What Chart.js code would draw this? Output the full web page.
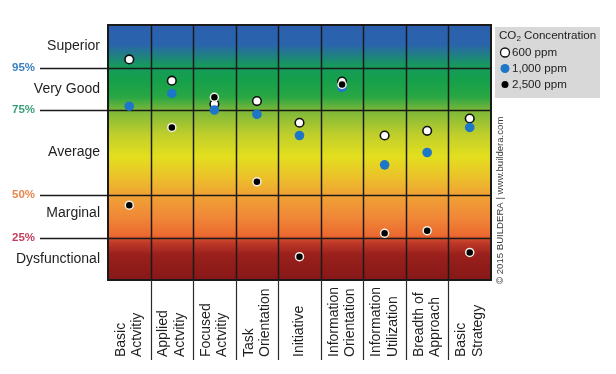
<!DOCTYPE html>
<html>
<head>
<meta charset="utf-8">
<script src="https://cdn.jsdelivr.net/npm/chart.js@4.4.1/dist/chart.umd.min.js"></script>
<style>
  html, body { margin: 0; padding: 0; background: #fff; }
  canvas { display: block; }
</style>
</head>
<body>
<canvas id="chart" width="616" height="374"></canvas>
<script>
// categories (multi-line labels, typo kept as in the original)
const categories = [
  ['Basic', 'Actvitiy'],
  ['Applied', 'Actvitiy'],
  ['Focused', 'Actvitiy'],
  ['Task', 'Orientation'],
  ['Initiative'],
  ['Information', 'Orientation'],
  ['Information', 'Utilization'],
  ['Breadth of', 'Approach'],
  ['Basic', 'Strategy']
];

// scores on a band scale: 0-1 Dysfunctional, 1-2 Marginal, 2-4 Average, 4-5 Very Good, 5-6 Superior
const ppm600  = [5.19, 4.69, 4.14, 4.21, 3.70, 4.67, 3.40, 3.51, 3.80];
const ppm1000 = [4.09, 4.39, 4.00, 3.90, 3.40, 4.53, 2.71, 3.00, 3.59];
const ppm2500 = [1.76, 3.59, 4.30, 2.31, 0.55, 4.60, 1.10, 1.16, 0.65];

const bandNames = ['Dysfunctional', 'Marginal', 'Average', 'Very Good', 'Superior'];
const bandEdges = [0, 1, 2, 4, 5, 6];
const thresholdValues = [1, 2, 4, 5];
const thresholdLabels = ['25%', '50%', '75%', '95%'];
const thresholdColors = ['#c43e5c', '#e8874c', '#3a9f78', '#3b80c2'];

const seriesNames = ['600 ppm', '1,000 ppm', '2,500 ppm'];

const FONT = '"Liberation Sans", Arial, Helvetica, sans-serif';

// gradient stops keyed on scale values
const gradStops = [
  [6.0, '#2b5fae'],
  [5.55, '#2a63ac'],
  [5.05, '#17995e'],
  [4.7, '#14a04a'],
  [4.3, '#2aa744'],
  [4.0, '#7ab73a'],
  [3.4, '#c2cf2a'],
  [2.9, '#e3df1e'],
  [2.4, '#ecc02b'],
  [2.0, '#f0a234'],
  [1.5, '#f08938'],
  [1.05, '#ec6a30'],
  [0.9, '#c23c29'],
  [0.6, '#9a201c'],
  [0.0, '#861818']
];

const backdrop = {
  id: 'backdrop',
  beforeDatasetsDraw(chart) {
    const { ctx, chartArea: a, scales: { x, y } } = chart;
    ctx.save();
    // gradient background
    const g = ctx.createLinearGradient(0, a.top, 0, a.bottom);
    gradStops.forEach(([v, c]) => {
      const f = (y.getPixelForValue(v) - a.top) / (a.bottom - a.top);
      g.addColorStop(Math.min(1, Math.max(0, f)), c);
    });
    ctx.fillStyle = g;
    ctx.fillRect(a.left, a.top, a.right - a.left, a.bottom - a.top);

    ctx.strokeStyle = '#1a1a1a';
    ctx.lineWidth = 1.5;
    // horizontal threshold lines, extending left to the % labels
    thresholdValues.forEach(v => {
      const py = Math.round(y.getPixelForValue(v)) + 0.5;
      ctx.beginPath();
      ctx.moveTo(40, py);
      ctx.lineTo(a.right, py);
      ctx.stroke();
    });
    // vertical column lines
    for (let i = 0; i < categories.length - 1; i++) {
      const px = Math.round((x.getPixelForValue(i) + x.getPixelForValue(i + 1)) / 2) + 0.5;
      ctx.beginPath();
      ctx.moveTo(px, a.top);
      ctx.lineTo(px, a.bottom);
      ctx.stroke();
    }
    ctx.restore();
  },
  afterDraw(chart) {
    const { ctx, chartArea: a, scales: { x, y } } = chart;
    ctx.save();
    // frame
    ctx.strokeStyle = '#1a1a1a';
    ctx.lineWidth = 2;
    ctx.strokeRect(a.left, a.top, a.right - a.left, a.bottom - a.top);

    // band names
    ctx.fillStyle = '#1e1e1e';
    ctx.font = '14px ' + FONT;
    ctx.textAlign = 'right';
    ctx.textBaseline = 'middle';
    bandNames.forEach((name, i) => {
      let mid = (y.getPixelForValue(bandEdges[i]) + y.getPixelForValue(bandEdges[i + 1])) / 2;
      if (name === 'Marginal') mid -= 3;
      ctx.fillText(name, 100, mid);
    });

    // threshold percentages
    ctx.font = 'bold 11.5px ' + FONT;
    ctx.textAlign = 'left';
    thresholdValues.forEach((v, i) => {
      ctx.fillStyle = thresholdColors[i];
      ctx.fillText(thresholdLabels[i], 12, y.getPixelForValue(v));
    });

    // separators below the plot
    ctx.strokeStyle = '#2a2a2a';
    ctx.lineWidth = 1.2;
    for (let i = 0; i < categories.length - 1; i++) {
      const px = Math.round((x.getPixelForValue(i) + x.getPixelForValue(i + 1)) / 2) + 0.5;
      ctx.beginPath();
      ctx.moveTo(px, a.bottom);
      ctx.lineTo(px, 360);
      ctx.stroke();
    }

    // rotated category labels, bottom aligned
    ctx.fillStyle = '#1e1e1e';
    ctx.font = '14px ' + FONT;
    ctx.textAlign = 'left';
    ctx.textBaseline = 'middle';
    categories.forEach((lines, i) => {
      const xc = x.getPixelForValue(i);
      lines.forEach((txt, j) => {
        const lx = xc + (j - (lines.length - 1) / 2) * 16.5;
        ctx.save();
        ctx.translate(lx, 357);
        ctx.rotate(-Math.PI / 2);
        ctx.fillText(txt, 0, 0);
        ctx.restore();
      });
    });

    // legend box
    ctx.fillStyle = '#d8d8d8';
    ctx.fillRect(495, 27, 105, 71);
    ctx.fillStyle = '#1e1e1e';
    ctx.font = '11.6px ' + FONT;
    ctx.textBaseline = 'middle';
    ctx.fillText('CO', 499, 36);
    let w = ctx.measureText('CO').width;
    ctx.font = '8px ' + FONT;
    ctx.fillText('2', 499 + w, 39);
    w += ctx.measureText('2').width;
    ctx.font = '11.6px ' + FONT;
    ctx.fillText(' Concentration', 499 + w, 36);
    const ds = chart.data.datasets;
    const legendOrder = [2, 1, 0]; // datasets are stored black-first for draw order
    legendOrder.forEach((k, i) => {
      const d = ds[k];
      const ly = 52.5 + i * 16;
      ctx.beginPath();
      ctx.arc(505, ly, k === 0 ? 3.5 : 4.5, 0, Math.PI * 2);
      ctx.fillStyle = d.pointBackgroundColor;
      ctx.fill();
      if (k === 2) {
        ctx.lineWidth = 1.3;
        ctx.strokeStyle = '#111';
        ctx.stroke();
      }
      ctx.fillStyle = '#1e1e1e';
      ctx.fillText(d.label, 512, ly);
    });

    // watermark
    ctx.fillStyle = '#3a3a3a';
    ctx.font = '9.6px ' + FONT;
    ctx.save();
    ctx.translate(500, 284);
    ctx.rotate(-Math.PI / 2);
    ctx.fillText('\u00A9 2015 BUILDERA | www.buildera.com', 0, 0);
    ctx.restore();

    ctx.restore();
  }
};

new Chart(document.getElementById('chart'), {
  type: 'line',
  data: {
    labels: categories,
    datasets: [
      {
        label: seriesNames[2],
        data: ppm2500,
        showLine: false,
        pointRadius: 4,
        pointBackgroundColor: '#000000',
        pointBorderColor: '#f4f0e8',
        pointBorderWidth: 1.5
      },
      {
        label: seriesNames[1],
        data: ppm1000,
        showLine: false,
        pointRadius: 4.8,
        pointBackgroundColor: '#1e76c8',
        pointBorderColor: '#1e76c8',
        pointBorderWidth: 0
      },
      {
        label: seriesNames[0],
        data: ppm600,
        showLine: false,
        pointRadius: 4.3,
        pointBackgroundColor: '#ffffff',
        pointBorderColor: '#111111',
        pointBorderWidth: 1.6
      }
    ]
  },
  options: {
    responsive: false,
    animation: false,
    devicePixelRatio: 1,
    layout: { padding: { left: 108, right: 125, top: 25, bottom: 94 } },
    plugins: { legend: { display: false }, tooltip: { enabled: false } },
    scales: {
      x: { type: 'category', offset: true, display: false },
      y: { type: 'linear', min: 0, max: 6, display: false }
    }
  },
  plugins: [backdrop]
});
</script>
</body>
</html>
